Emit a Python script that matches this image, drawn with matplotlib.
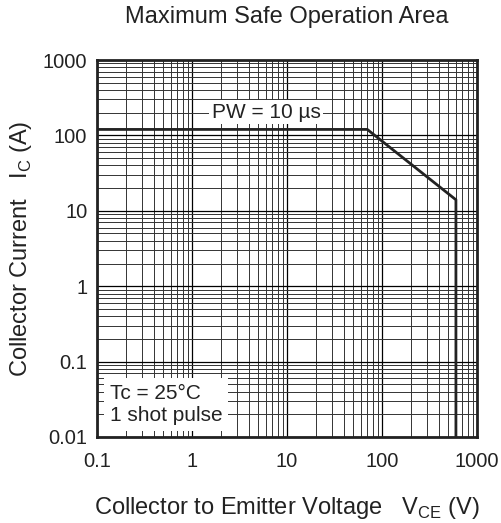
import matplotlib
matplotlib.use("Agg")
import matplotlib.pyplot as plt
from matplotlib.ticker import LogLocator, NullFormatter, FixedLocator, FixedFormatter

plt.rcParams['font.family'] = ['Liberation Sans', 'DejaVu Sans']

# SOA boundary (PW = 10 us)
vce = [0.1, 70, 600, 600]
ic = [120, 120, 14, 0.01]

xticks = [0.1, 1, 10, 100, 1000]
xlabels = ["0.1", "1", "10", "100", "1000"]
yticks = [0.01, 0.1, 1, 10, 100, 1000]
ylabels = ["0.01", "0.1", "1", "10", "100", "1000"]

fig = plt.figure(figsize=(5.01, 5.23), dpi=100)
ax = fig.add_axes([97 / 501, 86 / 523, 380 / 501, 377 / 523])
ax.set_xscale("log")
ax.set_yscale("log")
ax.set_xlim(0.1, 1000)
ax.set_ylim(0.01, 1000)

ax.xaxis.set_major_locator(FixedLocator(xticks))
ax.xaxis.set_major_formatter(FixedFormatter(xlabels))
ax.yaxis.set_major_locator(FixedLocator(yticks))
ax.yaxis.set_major_formatter(FixedFormatter(ylabels))
ax.xaxis.set_minor_locator(LogLocator(base=10, subs=range(2, 10), numticks=20))
ax.yaxis.set_minor_locator(LogLocator(base=10, subs=range(2, 10), numticks=20))
ax.xaxis.set_minor_formatter(NullFormatter())
ax.yaxis.set_minor_formatter(NullFormatter())

ax.grid(which="major", color="black", linewidth=0.9)
ax.grid(which="minor", color="#333333", linewidth=0.7)
ax.tick_params(which="both", length=0, labelsize=14.5, colors="#222222")
ax.tick_params(axis="x", pad=11)
ax.tick_params(axis="y", pad=7)
for s in ax.spines.values():
    s.set_linewidth(2)
    s.set_color("#222222")

ax.plot(vce, ic, color="#222222", linewidth=2)

ax.text(1.62, 204, "PW = 10 µs", fontsize=15, ha="left", va="center", color="#222222",
        bbox=dict(facecolor="white", edgecolor="none", pad=2))
ax.text(0.137, 0.027, "Tc = 25°C\n1 shot pulse", fontsize=15, ha="left", va="center",
        linespacing=1.2, color="#222222",
        bbox=dict(facecolor="white", edgecolor="none", pad=4))

ax.set_title("Maximum Safe Operation Area", fontsize=17, pad=27, color="#222222")
ax.set_xlabel("Collector to Emitter Voltage   V$_{\\mathregular{CE}}$ (V)", fontsize=17,
              labelpad=17, color="#222222")
ax.set_ylabel("Collector Current   I$_{\\mathregular{C}}$ (A)", fontsize=17, color="#222222")
ax.yaxis.set_label_coords(-0.165, 0.5)

fig.savefig("out.png", dpi=100)
